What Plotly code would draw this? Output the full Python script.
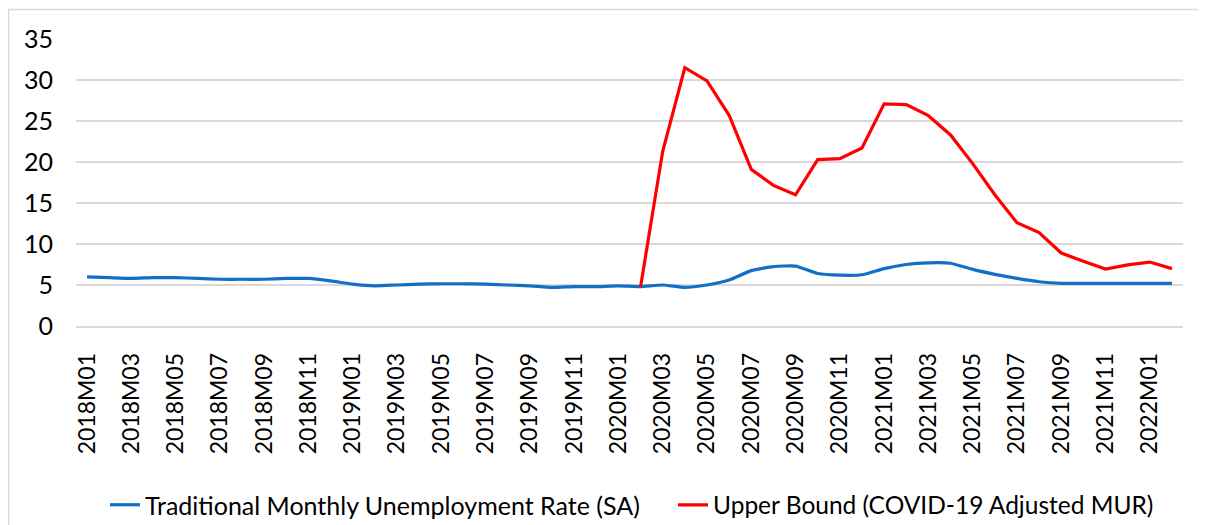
import plotly.graph_objects as go

months = [f"{y}M{m:02d}" for y in range(2018, 2023) for m in range(1, 13)][:50]

traditional_mur = [
    6.0, 5.9, 5.8, 5.9, 5.9, 5.8, 5.7, 5.7, 5.7, 5.8, 5.8, 5.5,
    5.1, 4.9, 5.0, 5.1, 5.15, 5.15, 5.1, 5.0, 4.9, 4.7, 4.8, 4.8,
    4.9, 4.8, 5.0, 4.7, 5.0, 5.6, 6.75, 7.25, 7.3, 6.4, 6.2, 6.25,
    7.0, 7.5, 7.7, 7.65, 6.9, 6.3, 5.8, 5.4, 5.2, 5.2, 5.2, 5.2,
    5.2, 5.2,
]

upper_bound_months = months[25:]
upper_bound = [
    4.8, 21.3, 31.5, 29.9, 25.7, 19.1, 17.15, 16.0, 20.3, 20.4, 21.7,
    27.1, 27.0, 25.65, 23.3, 19.8, 16.0, 12.6, 11.4, 8.9, 7.9, 6.95,
    7.45, 7.8, 7.0,
]

tick_labels = months[::2]
y_ticks = [0, 5, 10, 15, 20, 25, 30, 35]

# the page body has an 8px margin, so work in figure coordinates = screen - 8
OFF = 8
W, H = 1206 - OFF, 525 - OFF
L, R, T, B = 76 - OFF, 1183 - OFF, 39 - OFF, 326 - OFF

def px_x(p):
    return (p - OFF - L) / (R - L)

def px_y(p):
    return (B - (p - OFF)) / (B - T)

fig = go.Figure()
fig.add_trace(go.Scatter(
    x=months, y=traditional_mur, mode="lines",
    name="Traditional Monthly Unemployment Rate (SA)",
    line=dict(color="#1170C4", width=3.2, shape="spline", smoothing=0.5),
    legend="legend",
))
fig.add_trace(go.Scatter(
    x=upper_bound_months, y=upper_bound, mode="lines",
    name="Upper Bound (COVID-19 Adjusted MUR)",
    line=dict(color="#FF0000", width=3.2),
    legend="legend2",
))

fig.add_shape(type="rect", xref="paper", yref="paper",
              x0=px_x(8.5), x1=px_x(1215), y0=px_y(545), y1=px_y(9.5),
              line=dict(color="#D9D9D9", width=1.5), fillcolor="rgba(0,0,0,0)",
              layer="below")

legend_style = dict(orientation="h", xanchor="left", yanchor="middle",
                    font=dict(size=25), bgcolor="rgba(0,0,0,0)", borderwidth=0)

fig.update_layout(
    width=W, height=H,
    margin=dict(l=L, r=W - R, t=T, b=H - B, pad=0, autoexpand=False),
    paper_bgcolor="white", plot_bgcolor="white",
    font=dict(family="Lato, Open Sans, sans-serif", size=25, color="#000000"),
    showlegend=True,
    legend=dict(x=px_x(105), y=px_y(505), **legend_style),
    legend2=dict(x=px_x(673), y=px_y(505), font=dict(size=24.5),
                 **{k: v for k, v in legend_style.items() if k != "font"}),
)
fig.update_xaxes(
    type="category", categoryorder="array", categoryarray=months,
    range=[-0.5, len(months) - 0.5], automargin=False,
    tickmode="array", tickvals=tick_labels, ticktext=tick_labels,
    tickangle=-90, showgrid=False, showline=True, linecolor="#D9D9D9", linewidth=1.5,
    ticks="", ticklabelstandoff=16, tickfont=dict(size=23),
)
fig.update_yaxes(
    range=[0, 35], tickvals=y_ticks, showgrid=True, gridcolor="#D9D9D9", gridwidth=1.5,
    zeroline=False, showline=False, ticks="", ticklabelstandoff=22, automargin=False,
    tickfont=dict(size=25),
)

fig.write_html("out.html")
